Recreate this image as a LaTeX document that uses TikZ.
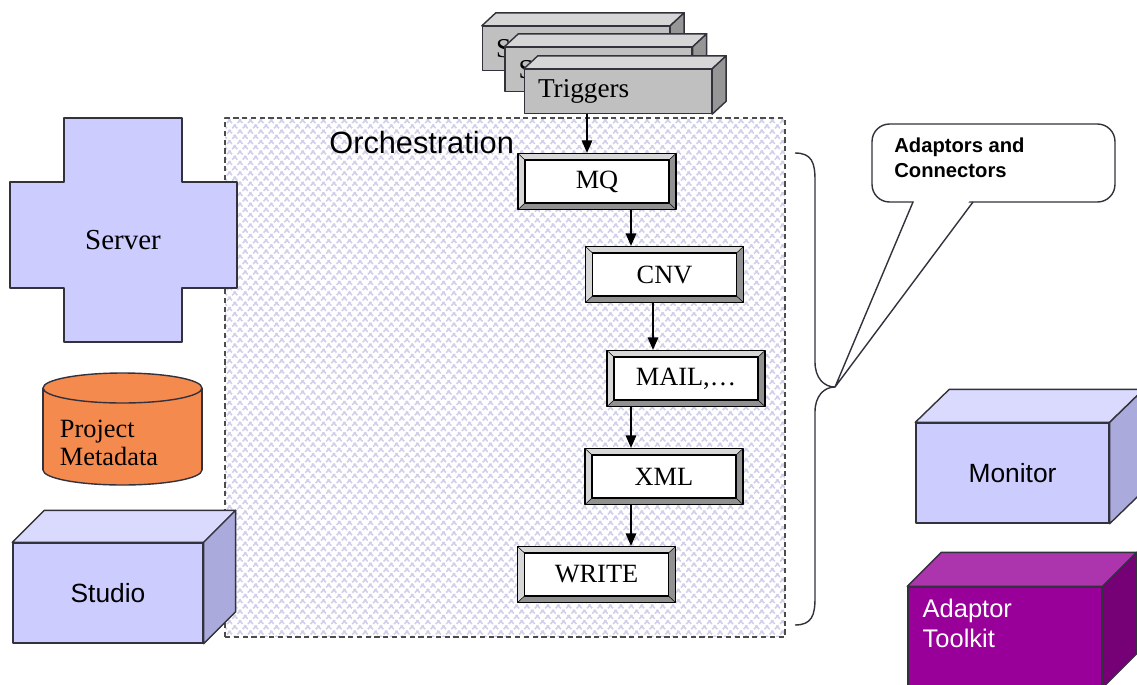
\documentclass[tikz,border=0pt]{standalone}
\usepackage{fontspec}
\setmainfont{Liberation Serif}
\setsansfont{Liberation Sans}
\usetikzlibrary{arrows.meta,patterns.meta}
\definecolor{lav}{RGB}{204,204,255}
\definecolor{lavtop}{RGB}{218,218,255}
\definecolor{lavside}{RGB}{170,170,220}
\definecolor{trigfront}{RGB}{192,192,192}
\definecolor{trigtop}{RGB}{214,214,214}
\definecolor{trigside}{RGB}{150,150,150}
\definecolor{orng}{RGB}{245,138,78}
\definecolor{purp}{RGB}{153,0,153}
\definecolor{purptop}{RGB}{172,52,172}
\definecolor{purpside}{RGB}{118,0,118}
\definecolor{hatch}{RGB}{208,208,234}
\definecolor{bevlight}{RGB}{215,215,215}
\definecolor{bevdark}{RGB}{145,145,145}
\definecolor{edge}{RGB}{50,50,60}

% #1 node, #2 dx, #3 dy, #4 top colour, #5 side colour
\newcommand\boxfaces[5]{%
  \filldraw[fill=#4] (#1.north west) -- ++(#2,-#3) -- ([shift={(#2,-#3)}]#1.north east) -- (#1.north east) -- cycle;
  \filldraw[fill=#5] (#1.north east) -- ++(#2,-#3) -- ([shift={(#2,-#3)}]#1.south east) -- (#1.south east) -- cycle;}

\begin{document}
\begin{tikzpicture}[x=0.02cm,y=-0.02cm,
  line join=round,
  cubefront/.style={draw=edge, line width=0.8pt, minimum width=3.8cm, minimum height=2cm, inner sep=0pt},
  trig/.style={draw=edge, line width=0.8pt, fill=trigfront, text width=3.2cm, inner xsep=0.27cm, inner ysep=0pt,
               minimum height=0.88cm, align=left, font=\fontsize{15.5}{17}\selectfont},
  bevel/.style={draw=black, line width=0.7pt, fill=white, minimum width=3.16cm, minimum height=1.12cm, inner sep=0pt,
    font=\fontsize{15}{17}\selectfont,
    path picture={
      \coordinate (bnw) at (path picture bounding box.north west);
      \coordinate (bne) at (path picture bounding box.north east);
      \coordinate (bsw) at (path picture bounding box.south west);
      \coordinate (bse) at (path picture bounding box.south east);
      \coordinate (inw) at ([shift={(0.14cm,-0.13cm)}]path picture bounding box.north west);
      \coordinate (ine) at ([shift={(-0.14cm,-0.13cm)}]path picture bounding box.north east);
      \coordinate (isw) at ([shift={(0.14cm,0.13cm)}]path picture bounding box.south west);
      \coordinate (ise) at ([shift={(-0.14cm,0.13cm)}]path picture bounding box.south east);
      \fill[bevlight] (bsw) -- (bnw) -- (bne) -- (ine) -- (inw) -- (isw) -- cycle;
      \fill[bevdark] (bsw) -- (bse) -- (bne) -- (ine) -- (ise) -- (isw) -- cycle;
      \draw[line width=0.3pt] (bnw) -- (inw) (bne) -- (ine) (bsw) -- (isw) (bse) -- (ise);
      \draw[line width=0.7pt, fill=white] (isw) rectangle (ine);
    }},
  arr/.style={line width=0.8pt, -{Triangle[length=0.25cm,width=0.21cm]}},
  orchbox/.style={draw=black!70, line width=1pt, dash pattern=on 3pt off 2pt,
    pattern={Hatch[angle=45,distance=4.2pt,line width=0.9pt]}, pattern color=hatch,
    minimum width=11.2cm, minimum height=10.38cm, inner sep=0pt},
]
\useasboundingbox (0,0) rectangle (1137,684);
\clip (0,0) rectangle (1137,684);
\fill[white] (0,0) rectangle (1137,684);

% Orchestration region
\node[orchbox] (orch) at (505,377.5) {};
\node[font=\sffamily\fontsize{17.5}{20}\selectfont, anchor=west, inner sep=0pt] (orchlbl) at (329,143) {Orchestration};

% Server cross
\filldraw[fill=lav, draw=edge, line width=0.8pt] (64,118) -- (182,118) -- (182,182) -- (237,182) -- (237,288) -- (182,288)
  -- (182,342) -- (64,342) -- (64,288) -- (10,288) -- (10,182) -- (64,182) -- cycle;
\node[font=\fontsize{16.5}{18}\selectfont] (server) at (123,240) {Server};

% Project Metadata cylinder
\draw[fill=orng, draw=edge, line width=0.8pt] (122.5,470) ellipse [x radius=1.59cm, y radius=0.3cm];
\fill[orng] (43,388) rectangle (202,470);
\draw[edge, line width=0.8pt] (43,388) -- (43,470) (202,388) -- (202,470);
\draw[fill=orng, draw=edge, line width=0.8pt] (122.5,388) ellipse [x radius=1.59cm, y radius=0.3cm];
\node[align=left, font=\fontsize{15}{16}\selectfont, inner sep=0pt] (meta) at (109,443) {Project\\Metadata};

\begin{scope}[draw=edge, line width=0.8pt]
% Studio
\node[cubefront, fill=lav, font=\sffamily\fontsize{15}{17}\selectfont] (studio) at (108,593) {Studio};
\boxfaces{studio}{32}{32}{lavtop}{lavside}
% Monitor
\node[cubefront, fill=lav, minimum width=3.86cm, font=\sffamily\fontsize{15}{17}\selectfont] (monitor) at (1012.5,473) {Monitor};
\boxfaces{monitor}{34}{33}{lavtop}{lavside}
% Adaptor Toolkit
\node[cubefront, fill=purp, minimum width=3.88cm] (toolkit) at (1005,637) {};
\boxfaces{toolkit}{34}{34}{purptop}{purpside}
\node[anchor=north west, align=left, text=white, font=\sffamily\fontsize{14.5}{17}\selectfont, inner sep=0pt] (toolkitlbl) at (922,598) {Adaptor\\Toolkit};

% Triggers stack
\node[trig] (t1) at (576,48.5) {S};
\boxfaces{t1}{14}{13}{trigtop}{trigside}
\node[trig] (t2) at (598.5,69.5) {S};
\boxfaces{t2}{14}{13}{trigtop}{trigside}
\node[trig] (t3) at (618,91.5) {Triggers};
\boxfaces{t3}{14}{13}{trigtop}{trigside}
\end{scope}

% Bevel boxes
\node[bevel] (mq) at (597,181.5) {MQ};
\node[bevel] (cnv) at (664.5,274.5) {CNV};
\node[bevel] (mail) at (686,378.5) {MAIL,\dots};
\node[bevel] (xml) at (664,476.5) {XML};
\node[bevel] (write) at (596.5,574.5) {WRITE};

% Arrows
\coordinate (a0) at ([xshift=-0.62cm]t3.south);
\coordinate (a1) at ([xshift=0.68cm]mq.south);
\coordinate (a2) at ([xshift=-0.23cm]cnv.south);
\coordinate (a3) at ([xshift=-1.1cm]mail.south);
\coordinate (a4) at ([xshift=-0.66cm]xml.south);
\draw[arr] (a0) -- (a0 |- mq.north);
\draw[arr] (a1) -- (a1 |- cnv.north);
\draw[arr] (a2) -- (a2 |- mail.north);
\draw[arr] (a3) -- (a3 |- xml.north);
\draw[arr] (a4) -- (a4 |- write.north);

% Brace
\coordinate (tip) at (835,387);
\draw[edge, line width=0.8pt] (795,153) .. controls (812,153) and (815,163) .. (815,180) -- (815,362)
  .. controls (815,378) and (824,387) .. (tip)
  .. controls (824,387) and (815,396) .. (815,412) -- (815,598)
  .. controls (815,615) and (812,625) .. (795,625);

% Callout
\node[draw=edge, line width=0.8pt, rounded corners=0.35cm, fill=white, minimum width=4.86cm, minimum height=1.56cm] (callout) at (993.5,163) {};
\fill[white] (915,199) -- (tip) -- (971,199) -- cycle;
\draw[edge, line width=0.8pt] (913,202) -- (tip) -- (973,202);
\node[anchor=north west, align=left, font=\sffamily\bfseries\fontsize{11.5}{14}\selectfont, inner sep=0pt] (calltxt) at (894,138) {Adaptors and\\Connectors};
\end{tikzpicture}
\end{document}
